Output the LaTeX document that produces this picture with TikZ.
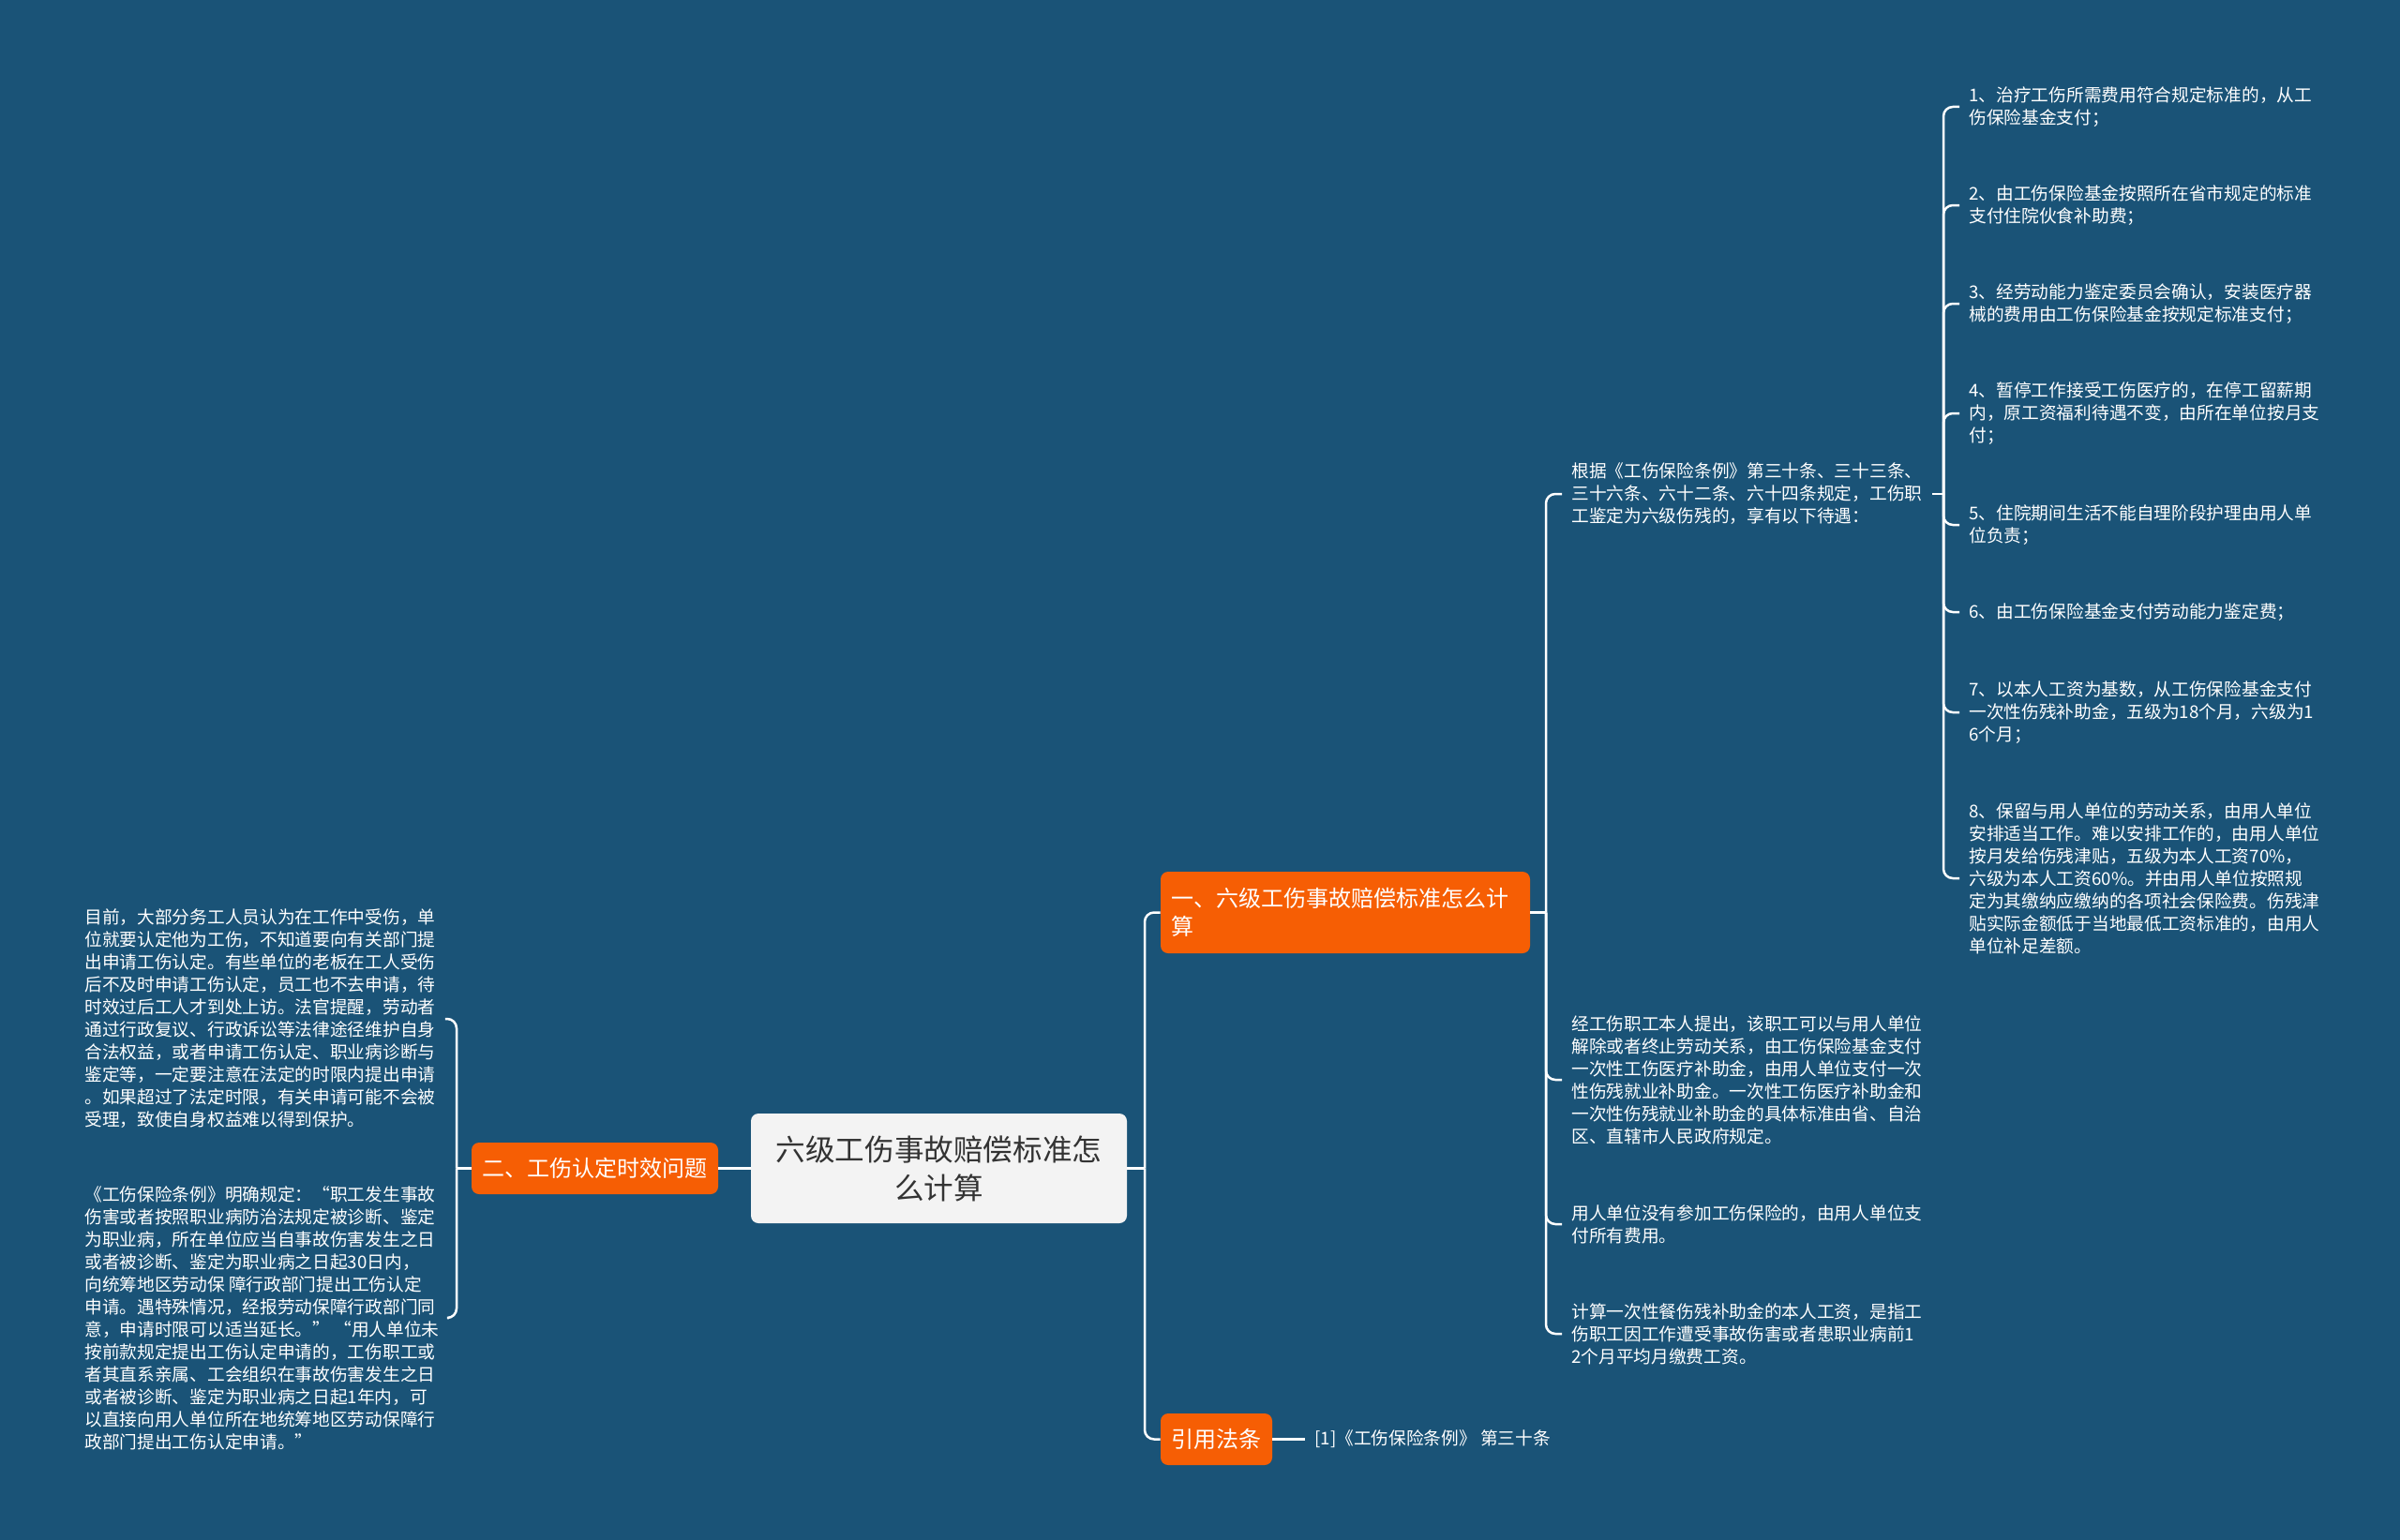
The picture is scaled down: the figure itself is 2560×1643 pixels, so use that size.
\documentclass[tikz,border=0pt]{standalone}
\usepackage{fontspec}
\newfontfamily\cjk{Noto Sans CJK SC}
\definecolor{bgblue}{RGB}{26,83,119}
\definecolor{orangebox}{RGB}{246,94,4}
\definecolor{centrefill}{RGB}{243,243,243}
\definecolor{centretext}{RGB}{51,51,51}
\begin{document}
\begin{tikzpicture}[x=0.5pt,y=-0.5pt,
  conn/.style={draw=white, line width=1.25pt, rounded corners=5pt},
  leaf/.style={font=\cjk\fontsize{9.35pt}{12pt}\selectfont, text=white, align=left, inner xsep=5pt, inner ysep=0pt, anchor=west},
  branch/.style={fill=orangebox, rounded corners=4pt, text=white, font=\cjk\fontsize{12pt}{15pt}\selectfont, inner sep=0pt},
  centre/.style={fill=centrefill, rounded corners=4pt, text=centretext, font=\cjk\fontsize{15.8pt}{20.5pt}\selectfont, align=center, inner sep=0pt, minimum width=200.5pt, minimum height=58.5pt}
]
\useasboundingbox (0,0) rectangle (2560,1643);
\fill[bgblue] (0,0) rectangle (2560,1643);

% central node
\node[centre] (c) at (1001.5,1246.5) {六级工伤事故赔偿标准怎\\么计算};

% branches
\node[branch, minimum width=197pt, minimum height=43.5pt, text width=186pt, align=left] (b1) at (1435,973.5) {一、六级工伤事故赔偿标准怎么计\\算};
\node[branch, minimum width=131.5pt, minimum height=27.5pt] (b2) at (634.5,1246.5) {二、工伤认定时效问题};
\node[branch, minimum width=59.5pt, minimum height=27.5pt] (b3) at (1297.5,1535.5) {引用法条};

% children of branch 1
\node[leaf] (A) at (1666,527) {根据《工伤保险条例》第三十条、三十三条、\\三十六条、六十二条、六十四条规定，工伤职\\工鉴定为六级伤残的，享有以下待遇：};
\node[leaf] (B) at (1666,1152) {经工伤职工本人提出，该职工可以与用人单位\\解除或者终止劳动关系，由工伤保险基金支付\\一次性工伤医疗补助金，由用人单位支付一次\\性伤残就业补助金。一次性工伤医疗补助金和\\一次性伤残就业补助金的具体标准由省、自治\\区、直辖市人民政府规定。};
\node[leaf] (C) at (1666,1306) {用人单位没有参加工伤保险的，由用人单位支\\付所有费用。};
\node[leaf] (D) at (1666,1423) {计算一次性餐伤残补助金的本人工资，是指工\\伤职工因工作遭受事故伤害或者患职业病前1\\2个月平均月缴费工资。};

% grandchildren
\node[leaf] (g1) at (2090,114) {1、治疗工伤所需费用符合规定标准的，从工\\伤保险基金支付；};
\node[leaf] (g2) at (2090,219) {2、由工伤保险基金按照所在省市规定的标准\\支付住院伙食补助费；};
\node[leaf] (g3) at (2090,324) {3、经劳动能力鉴定委员会确认，安装医疗器\\械的费用由工伤保险基金按规定标准支付；};
\node[leaf] (g4) at (2090,441) {4、暂停工作接受工伤医疗的，在停工留薪期\\内，原工资福利待遇不变，由所在单位按月支\\付；};
\node[leaf] (g5) at (2090,560) {5、住院期间生活不能自理阶段护理由用人单\\位负责；};
\node[leaf] (g6) at (2090,653) {6、由工伤保险基金支付劳动能力鉴定费；};
\node[leaf] (g7) at (2090,760) {7、以本人工资为基数，从工伤保险基金支付\\一次性伤残补助金，五级为18个月，六级为1\\6个月；};
\node[leaf] (g8) at (2090,937) {8、保留与用人单位的劳动关系，由用人单位\\安排适当工作。难以安排工作的，由用人单位\\按月发给伤残津贴，五级为本人工资70\%，\\六级为本人工资60\%。并由用人单位按照规\\定为其缴纳应缴纳的各项社会保险费。伤残津\\贴实际金额低于当地最低工资标准的，由用人\\单位补足差额。};

% children of branch 2
\node[leaf] (E) at (80,1087) {目前，大部分务工人员认为在工作中受伤，单\\位就要认定他为工伤，不知道要向有关部门提\\出申请工伤认定。有些单位的老板在工人受伤\\后不及时申请工伤认定，员工也不去申请，待\\时效过后工人才到处上访。法官提醒，劳动者\\通过行政复议、行政诉讼等法律途径维护自身\\合法权益，或者申请工伤认定、职业病诊断与\\鉴定等，一定要注意在法定的时限内提出申请\\。如果超过了法定时限，有关申请可能不会被\\受理，致使自身权益难以得到保护。};
\node[leaf] (F) at (80,1406) {《工伤保险条例》明确规定：“职工发生事故\\伤害或者按照职业病防治法规定被诊断、鉴定\\为职业病，所在单位应当自事故伤害发生之日\\或者被诊断、鉴定为职业病之日起30日内，\\向统筹地区劳动保 障行政部门提出工伤认定\\申请。遇特殊情况，经报劳动保障行政部门同\\意，申请时限可以适当延长。” “用人单位未\\按前款规定提出工伤认定申请的，工伤职工或\\者其直系亲属、工会组织在事故伤害发生之日\\或者被诊断、鉴定为职业病之日起1年内，可\\以直接向用人单位所在地统筹地区劳动保障行\\政部门提出工伤认定申请。”};

% child of branch 3
\node[leaf] (R) at (1392,1535.5) {[1]《工伤保险条例》 第三十条};

% junction coordinates
\coordinate (t1) at (1221,1246.5);
\coordinate (t2) at (487,1246.5);
\coordinate (t3) at (1649,973.5);
\coordinate (t4) at (2073,527);

% connectors
\draw[conn] (c.east) -- (t1);
\draw[conn] (t1) |- (b1.west);
\draw[conn] (t1) |- (b3.west);
\draw[conn] (c.west) -- (b2.east);
\draw[conn] (b2.west) -- (t2);
\draw[conn] (t2) |- (E.east);
\draw[conn] (t2) |- (F.east);
\draw[conn] (b1.east) -- (t3);
\foreach \n in {A,B,C,D} \draw[conn] (t3) |- (\n.west);
\draw[conn] (A.east) -- (t4);
\foreach \n in {g1,g2,g3,g4,g5,g6,g7,g8} \draw[conn] (t4) |- (\n.west);
\draw[conn] (b3.east) -- (R.west);
\end{tikzpicture}
\end{document}
